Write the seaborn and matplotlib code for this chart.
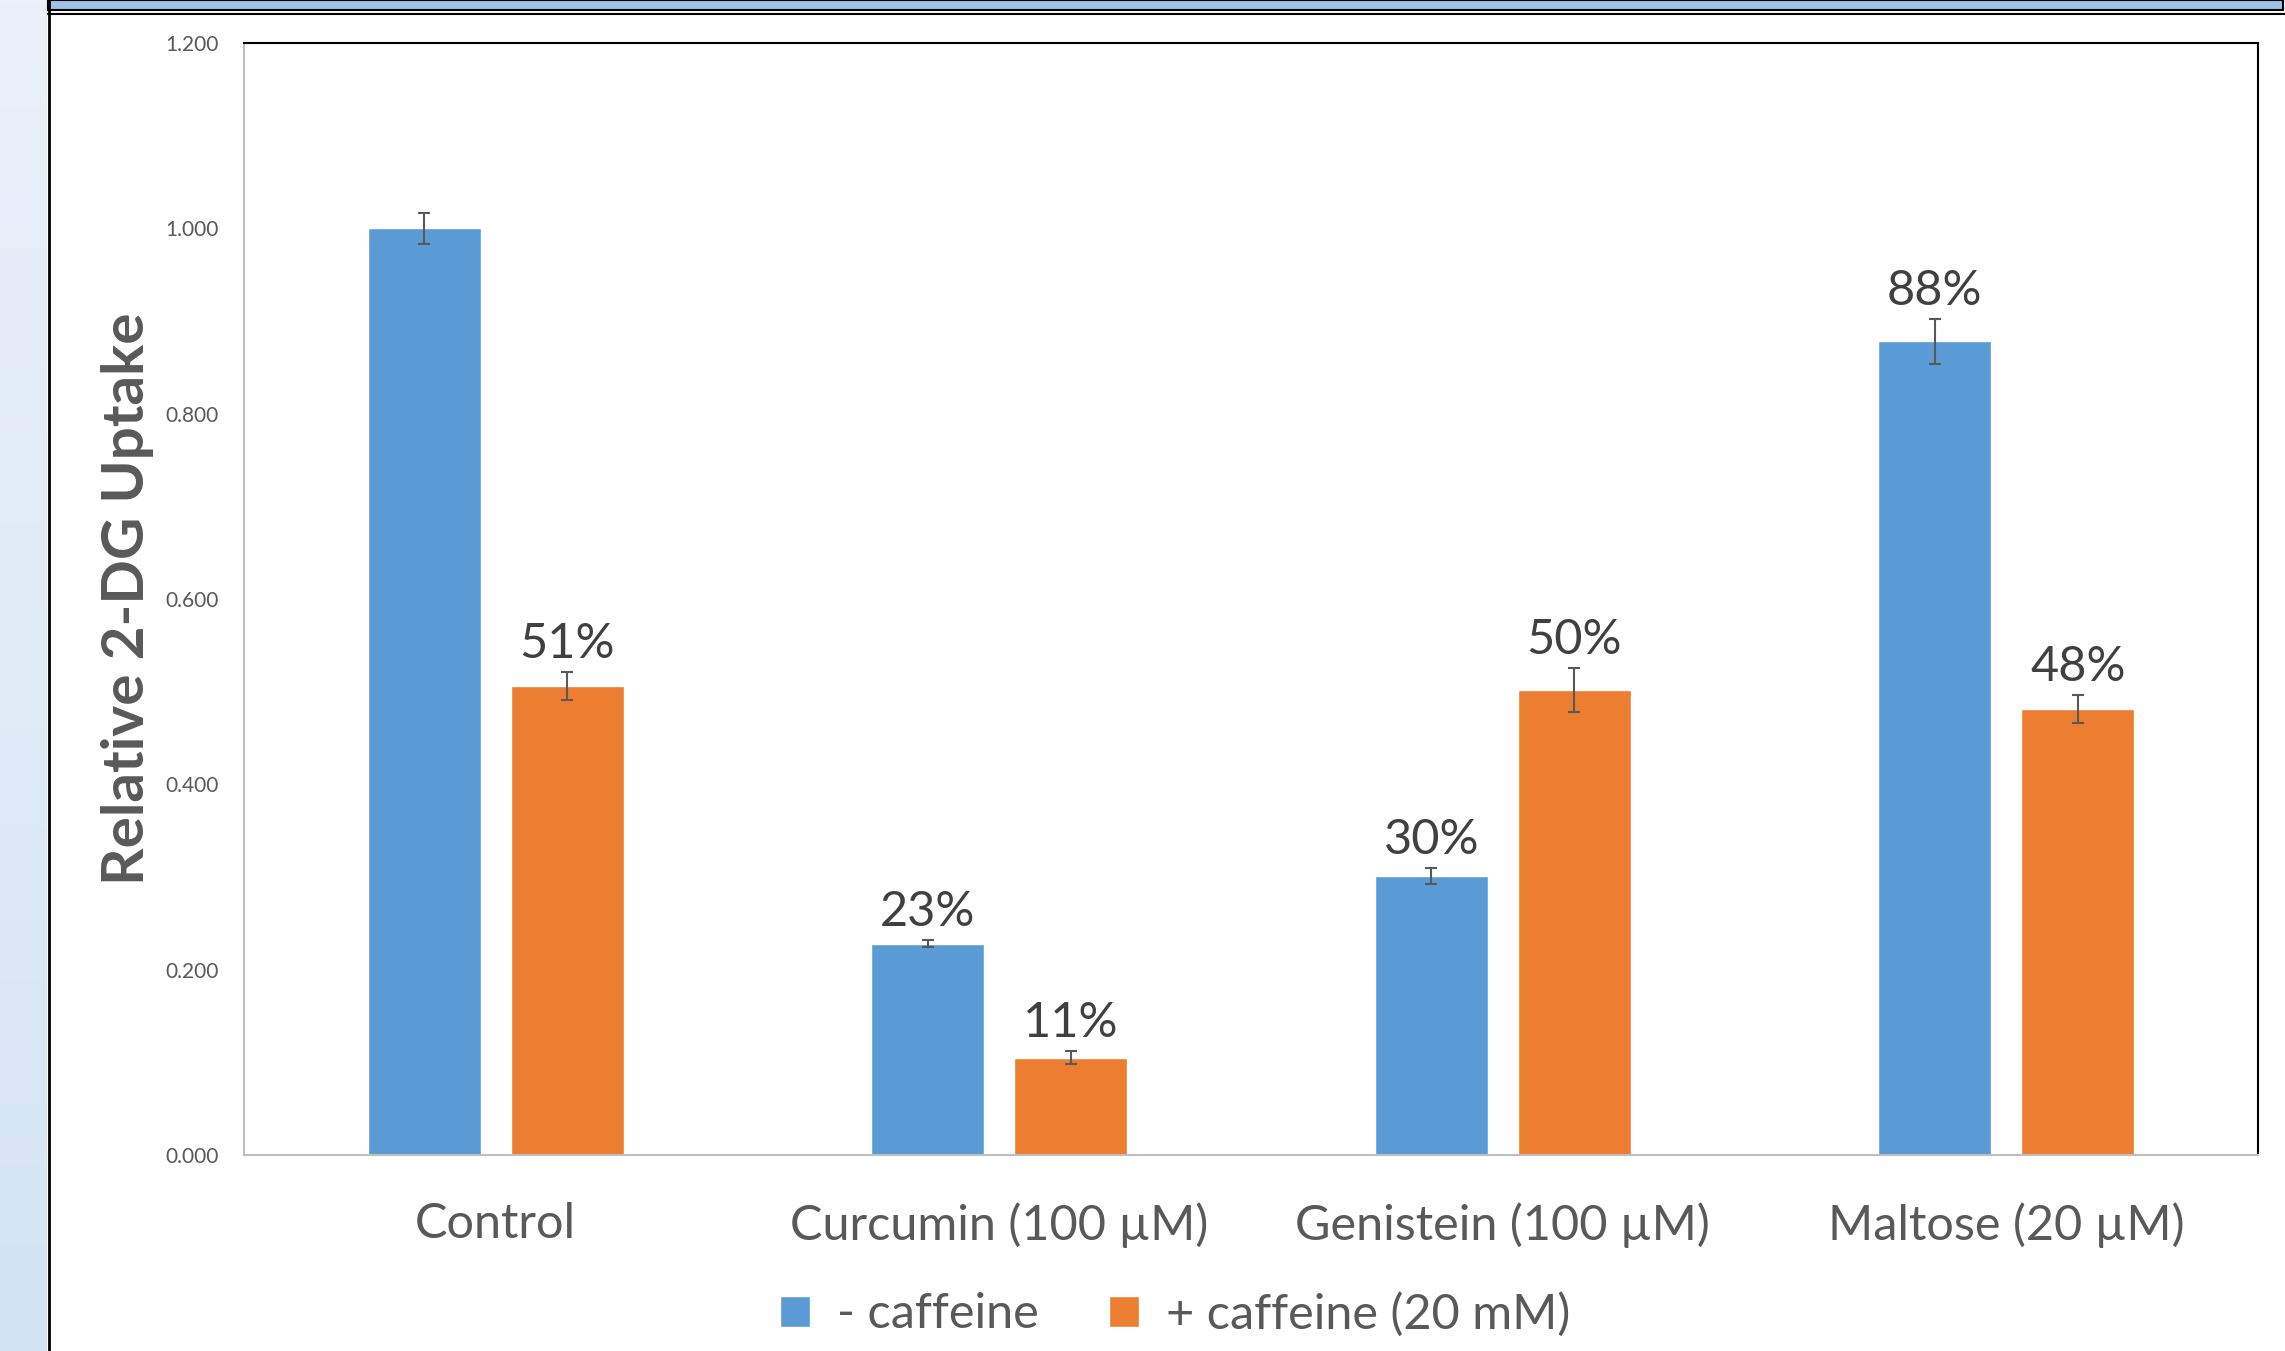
import numpy as np
import pandas as pd
import seaborn as sns
from matplotlib import pyplot as plt
from matplotlib.patches import Rectangle
from matplotlib.lines import Line2D
from matplotlib.colors import LinearSegmentedColormap

# chart values
categories = ["Control", "Curcumin (100 µM)", "Genistein (100 µM)", "Maltose (20 µM)"]
series = ["- caffeine", "+ caffeine (20 mM)"]
no_caffeine = [1.000, 0.228, 0.301, 0.878]
with_caffeine = [0.506, 0.105, 0.502, 0.481]
no_caffeine_err = [0.017, 0.004, 0.009, 0.024]
with_caffeine_err = [0.015, 0.007, 0.024, 0.015]
no_caffeine_labels = ["", "23%", "30%", "88%"]
with_caffeine_labels = ["51%", "11%", "50%", "48%"]
y_ticks = [0.0, 0.2, 0.4, 0.6, 0.8, 1.0, 1.2]

df = pd.DataFrame({
    "treatment": categories * 2,
    "condition": [series[0]] * 4 + [series[1]] * 4,
    "uptake": no_caffeine + with_caffeine,
})

sns.set_style("white")
plt.rcParams["font.family"] = ["Lato", "DejaVu Sans"]

W, H = 2285, 1351
fig = plt.figure(figsize=(W / 100, H / 100), dpi=100)

# page decoration around the chart (slide background)
bg = fig.add_axes([0, 0, 47 / W, 1])
bg.imshow(np.linspace(0, 1, 256).reshape(-1, 1), aspect="auto",
          cmap=LinearSegmentedColormap.from_list("bg", ["#eaf1fa", "#d4e4f4"]))
bg.axis("off")
fig.add_artist(Rectangle((48 / W, 1 - 10 / H), (2283 - 48) / W, 10 / H, transform=fig.transFigure,
                         facecolor="#9dc3e6", edgecolor="black", linewidth=1.5))
fig.add_artist(Line2D([48 / W, 1], [1 - 14 / H, 1 - 14 / H], transform=fig.transFigure,
                      color="black", linewidth=1.5))
fig.add_artist(Line2D([48.5 / W, 48.5 / W], [0, 1], transform=fig.transFigure,
                      color="black", linewidth=2))

ax = fig.add_axes([244 / W, (H - 1155) / H, 2014 / W, 1112 / H])

sns.barplot(data=df, x="treatment", y="uptake", hue="condition",
            palette=["#5b9bd5", "#ed7d31"], saturation=1, width=0.568, gap=0.21,
            errorbar=None, ax=ax)

# error bars and percentage labels
for cont, errs, labs in zip(ax.containers, [no_caffeine_err, with_caffeine_err],
                            [no_caffeine_labels, with_caffeine_labels]):
    for bar, e, lab in zip(cont, errs, labs):
        x = bar.get_x() + bar.get_width() / 2
        h = bar.get_height()
        ax.errorbar(x, h, yerr=e, color="#595959", capsize=4.3, elinewidth=1.5, capthick=1.5)
        if lab:
            ax.annotate(lab, (x, h + e), xytext=(0, 10), textcoords="offset points",
                        ha="center", va="baseline", fontsize=35, color="#404040")

ax.set_xlim(-0.5, 3.5)
ax.set_ylim(0, 1.2)
ax.set_yticks(y_ticks)
ax.set_yticklabels([f"{v:.3f}" for v in y_ticks], fontsize=15, color="#595959")
ax.tick_params(axis="y", direction="in", length=5, width=1.2, color="#bfbfbf", pad=18)
ax.tick_params(axis="x", length=0, pad=34, labelsize=35, labelcolor="#595959")

ax.set_xlabel("")
ax.set_ylabel("Relative 2-DG Uptake", fontsize=42, fontweight="bold", color="#595959")
ax.yaxis.set_label_coords(-0.0447, 0.5)

for side in ["top", "right"]:
    ax.spines[side].set_color("black")
    ax.spines[side].set_linewidth(1.5)
for side in ["left", "bottom"]:
    ax.spines[side].set_color("#bfbfbf")
    ax.spines[side].set_linewidth(1.5)

handles, labels = ax.get_legend_handles_labels()
ax.get_legend().remove()
leg = fig.legend(handles, labels, loc="center", bbox_to_anchor=(1175 / W, 1 - 1314 / H),
                 ncol=2, frameon=False, fontsize=35, handlelength=0.62, handleheight=0.62,
                 handletextpad=0.55, columnspacing=1.45)
for t in leg.get_texts():
    t.set_color("#595959")

plt.savefig("out.png", dpi=100)
